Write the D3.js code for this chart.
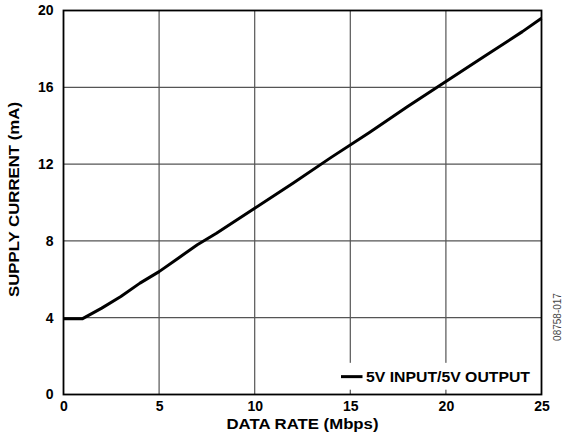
<!DOCTYPE html>
<html>
<head>
<meta charset="utf-8">
<script src="https://cdn.jsdelivr.net/npm/d3@7"></script>
<style>
    body { margin: 0; background: #fff; }
    text { font-family: "Liberation Sans", Arial, sans-serif; font-weight: bold; fill: #000; }
</style>
</head>
<body>
<svg id="chart" width="564" height="438"></svg>
<script>
// --- data ---
const dataRate = [0, 1, 2, 3, 4, 5, 6, 7, 8, 10, 12, 14, 16, 18, 20, 22, 24, 25];
const supplyCurrent = [3.95, 3.95, 4.5, 5.1, 5.8, 6.4, 7.1, 7.8, 8.4, 9.7, 11.0, 12.35, 13.65, 15.0, 16.3, 17.6, 18.9, 19.6];
const xTicks = [0, 5, 10, 15, 20, 25];
const yTicks = [0, 4, 8, 12, 16, 20];
const seriesName = "5V INPUT/5V OUTPUT";

const svg = d3.select("#chart");

const plot = { left: 63.5, right: 541.5, top: 10.5, bottom: 394.5 };

const x = d3.scaleLinear().domain([0, 25]).range([plot.left, plot.right]);
const y = d3.scaleLinear().domain([0, 20]).range([plot.bottom, plot.top]);

// grid
const grid = svg.append("g").attr("class", "grid");
grid.selectAll(".vgrid")
    .data(xTicks.slice(1, -1))
    .enter()
    .append("line")
    .attr("x1", (d) => x(d)).attr("x2", (d) => x(d))
    .attr("y1", plot.top).attr("y2", plot.bottom)
    .attr("stroke", "#555").attr("stroke-width", 1.2);
grid.selectAll(".hgrid")
    .data(yTicks.slice(1, -1))
    .enter()
    .append("line")
    .attr("x1", plot.left).attr("x2", plot.right)
    .attr("y1", (d) => y(d)).attr("y2", (d) => y(d))
    .attr("stroke", "#555").attr("stroke-width", 1.2);

// legend background hides the grid under it
svg.append("rect")
    .attr("x", x(14.4)).attr("y", y(1.65))
    .attr("width", x(24.8) - x(14.4)).attr("height", y(0.25) - y(1.65))
    .attr("fill", "#fff");

// curve
const line = d3.line()
    .x((d, i) => x(dataRate[i]))
    .y((d) => y(d));
svg.append("path")
    .datum(supplyCurrent)
    .attr("d", line)
    .attr("fill", "none")
    .attr("stroke", "#000")
    .attr("stroke-width", 3)
    .attr("stroke-linejoin", "round");

// frame
svg.append("rect")
    .attr("x", plot.left).attr("y", plot.top)
    .attr("width", plot.right - plot.left).attr("height", plot.bottom - plot.top)
    .attr("fill", "none").attr("stroke", "#000").attr("stroke-width", 1.8);

// legend entry
const ly = y(0.93);
svg.append("line")
    .attr("x1", 341).attr("x2", 362.5)
    .attr("y1", ly).attr("y2", ly)
    .attr("stroke", "#000").attr("stroke-width", 3);
svg.append("text")
    .attr("x", 366).attr("y", ly + 5.5)
    .attr("textLength", 164).attr("lengthAdjust", "spacingAndGlyphs")
    .style("font-size", "15px")
    .text(seriesName);

// axes (labels only)
const labelStyle = (sel) => sel
    .attr("fill", "#000")
    .style("font-size", "14px").style("font-weight", "bold")
    .style("font-family", "'Liberation Sans', Arial, sans-serif");

const xAxis = svg.append("g")
    .attr("transform", `translate(0,${plot.bottom})`)
    .call(d3.axisBottom(x).tickValues(xTicks).tickSize(0).tickPadding(7).tickFormat(d3.format("d")));
xAxis.select(".domain").remove();
xAxis.selectAll("text").call(labelStyle);

const yAxis = svg.append("g")
    .attr("transform", `translate(${plot.left},0)`)
    .call(d3.axisLeft(y).tickValues(yTicks).tickSize(0).tickPadding(10).tickFormat(d3.format("d")));
yAxis.select(".domain").remove();
yAxis.selectAll("text").call(labelStyle);

// axis titles
svg.append("text")
    .attr("x", (plot.left + plot.right) / 2).attr("y", 429)
    .attr("text-anchor", "middle")
    .attr("textLength", 152).attr("lengthAdjust", "spacingAndGlyphs")
    .style("font-size", "14px")
    .text("DATA RATE (Mbps)");

svg.append("text")
    .attr("transform", `translate(19,${(plot.top + plot.bottom) / 2 - 3}) rotate(-90)`)
    .attr("text-anchor", "middle")
    .attr("textLength", 195).attr("lengthAdjust", "spacingAndGlyphs")
    .style("font-size", "14.5px")
    .text("SUPPLY CURRENT (mA)");

// figure id
svg.append("text")
    .attr("transform", "translate(560.5,317) rotate(-90)")
    .attr("text-anchor", "middle")
    .style("font-size", "10px").style("font-weight", "normal").style("fill", "#444")
    .text("08758-017");
</script>
</body>
</html>
